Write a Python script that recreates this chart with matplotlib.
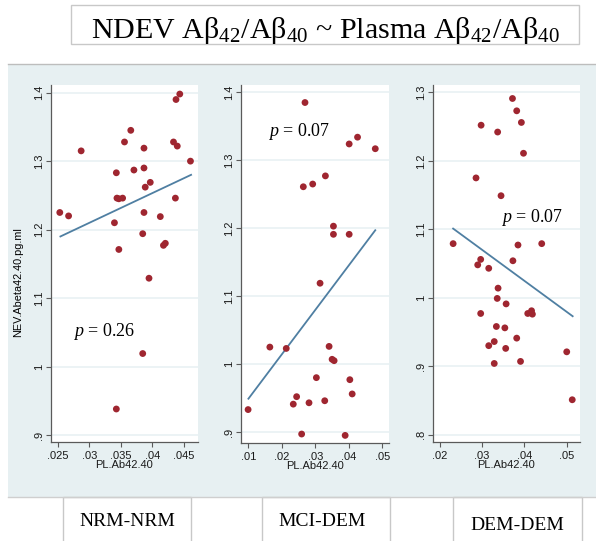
import matplotlib.pyplot as plt
from matplotlib.patches import Rectangle
from matplotlib.lines import Line2D

W, H = 596, 541

# ---- data ----
nrm_x = [0.0253, 0.0267, 0.0287, 0.0340, 0.0343, 0.0344, 0.0347, 0.0353, 0.0347, 0.0356,
         0.0366, 0.0371, 0.0385, 0.0387, 0.0387, 0.0387, 0.0389, 0.0397, 0.0395, 0.0413,
         0.0418, 0.0421, 0.0434, 0.0440, 0.0437, 0.0438, 0.0444, 0.0461, 0.0385, 0.0343]
nrm_y = [1.225, 1.220, 1.315, 1.210, 1.283, 1.246, 1.245, 1.246, 1.171, 1.328,
         1.345, 1.287, 1.194, 1.319, 1.290, 1.225, 1.262, 1.269, 1.129, 1.219,
         1.177, 1.180, 1.328, 1.322, 1.246, 1.390, 1.398, 1.300, 1.019, 0.938]
nrm_fit_x = [0.0254, 0.0462]
nrm_fit_y = [1.190, 1.280]

mci_x = [0.0269, 0.0401, 0.0426, 0.0479, 0.0264, 0.0292, 0.0330, 0.0354, 0.0354, 0.0401,
         0.0314, 0.0164, 0.0213, 0.0341, 0.0350, 0.0356, 0.0303, 0.0403, 0.0410, 0.0244,
         0.0234, 0.0281, 0.0328, 0.0099, 0.0259, 0.0389]
mci_y = [1.385, 1.324, 1.334, 1.317, 1.261, 1.265, 1.277, 1.203, 1.191, 1.191,
         1.119, 1.025, 1.023, 1.026, 1.007, 1.005, 0.980, 0.977, 0.956, 0.952,
         0.941, 0.943, 0.946, 0.933, 0.897, 0.895]
mci_fit_x = [0.0100, 0.0479]
mci_fit_y = [0.949, 1.197]

dem_x = [0.0372, 0.0382, 0.0393, 0.0298, 0.0337, 0.0398, 0.0286, 0.0345, 0.0232, 0.0385,
         0.0441, 0.0297, 0.0290, 0.0316, 0.0373, 0.0338, 0.0336, 0.0357, 0.0297, 0.0408,
         0.0417, 0.0419, 0.0334, 0.0354, 0.0382, 0.0329, 0.0316, 0.0356, 0.0500, 0.0329,
         0.0391, 0.0513]
dem_y = [1.291, 1.273, 1.256, 1.252, 1.242, 1.211, 1.175, 1.149, 1.079, 1.077,
         1.079, 1.056, 1.048, 1.043, 1.054, 1.014, 0.999, 0.991, 0.977, 0.977,
         0.981, 0.976, 0.958, 0.956, 0.941, 0.936, 0.930, 0.926, 0.921, 0.904,
         0.907, 0.851]
dem_fit_x = [0.0232, 0.0514]
dem_fit_y = [1.101, 0.973]

p_labels = ["0.26", "0.07", "0.07"]
groups = ["NRM-NRM", "MCI-DEM", "DEM-DEM"]

x_ticks = [[0.025, 0.03, 0.035, 0.04, 0.045], [0.01, 0.02, 0.03, 0.04, 0.05], [0.02, 0.03, 0.04, 0.05]]
x_ticklabels = [[".025", ".03", ".035", ".04", ".045"], [".01", ".02", ".03", ".04", ".05"],
                [".02", ".03", ".04", ".05"]]
y_ticks = [[0.9, 1.0, 1.1, 1.2, 1.3, 1.4], [0.9, 1.0, 1.1, 1.2, 1.3, 1.4], [0.8, 0.9, 1.0, 1.1, 1.2, 1.3]]
y_ticklabels = [[".9", "1", "1.1", "1.2", "1.3", "1.4"], [".9", "1", "1.1", "1.2", "1.3", "1.4"],
                [".8", ".9", "1", "1.1", "1.2", "1.3"]]

plt.rcParams['mathtext.fontset'] = 'custom'
plt.rcParams['mathtext.rm'] = 'Liberation Serif'
plt.rcParams['mathtext.it'] = 'Liberation Serif:italic'

fig = plt.figure(figsize=(W / 100, H / 100), dpi=100)
fig.patch.set_facecolor('white')


def fx(px):
    return px / W


def fy(py):
    return 1 - py / H


def rect(x0, y0, x1, y1, fc, ec):
    fig.patches.append(Rectangle((fx(x0), fy(y1)), fx(x1) - fx(x0), fy(y0) - fy(y1),
                                 transform=fig.transFigure, facecolor=fc, edgecolor=ec,
                                 linewidth=1, zorder=-10))


def hline(x0, x1, y, c):
    fig.lines.append(Line2D([fx(x0), fx(x1)], [fy(y), fy(y)], transform=fig.transFigure,
                            color=c, linewidth=1, zorder=-9))


# backgrounds and boxes
rect(71, 5, 579, 44, 'white', '#c8c8c8')
rect(8, 64, 600, 496.5, '#e7f0f2', 'none')
hline(8, 596, 64, '#bdbdbd')
for x0, x1 in [(63, 191), (262, 390), (453, 582)]:
    rect(x0, 497, x1, 545, 'white', '#c8c8c8')
hline(8, 596, 496.5, '#cfcfcf')

serif = 'Liberation Serif'
sans = 'Liberation Sans'

fig.text(fx(91), fy(38.5), "NDEV A\u03b2$_{42}$/A\u03b2$_{40}$ ~ Plasma A\u03b2$_{42}$/A\u03b2$_{40}$",
         family=serif, fontsize=21.6, ha='left', va='baseline')

label_pos = [(127, 522), (322, 522), (517, 525)]
for g, (lx, ly) in zip(groups, label_pos):
    fig.text(fx(lx), fy(ly), g, family=serif, fontsize=14, ha='center', va='center')

fig.text(fx(18), fy(282), "NEV.Abeta42.40.pg.ml", family=sans, fontsize=7.8,
         rotation=90, ha='center', va='center')

# panel geometry in pixels: left, top, right, bottom
boxes = [(51, 85, 198, 442), (241, 85, 389, 443), (433, 85, 580, 442)]
xlims = [(0.0239, 0.0473), (0.00778, 0.0520), (0.01845, 0.05313)]
ylims = [(0.8898, 1.4112), (0.8838, 1.4108), (0.7893, 1.3107)]
p_pos = [(0.02744, 1.0443), (0.01588, 1.3356), (0.03453, 1.1103)]

xs = [nrm_x, mci_x, dem_x]
ys = [nrm_y, mci_y, dem_y]
fits = [(nrm_fit_x, nrm_fit_y), (mci_fit_x, mci_fit_y), (dem_fit_x, dem_fit_y)]

for i in range(3):
    l, t, r, b = boxes[i]
    ax = fig.add_axes([fx(l), fy(b), fx(r) - fx(l), fy(t) - fy(b)])
    ax.set_facecolor('white')
    ax.set_xlim(*xlims[i])
    ax.set_ylim(*ylims[i])
    ax.set_yticks(y_ticks[i])
    ax.set_yticklabels(y_ticklabels[i], rotation=90, va='center', family=sans, fontsize=8)
    ax.set_xticks(x_ticks[i])
    ax.set_xticklabels(x_ticklabels[i], family=sans, fontsize=8)
    ax.grid(axis='y', color='#eaf2f4', linewidth=1.3)
    ax.set_axisbelow(True)
    for s in ['top', 'right']:
        ax.spines[s].set_visible(False)
    for s in ['left', 'bottom']:
        ax.spines[s].set_color('#5a5a5a')
        ax.spines[s].set_linewidth(0.9)
    ax.tick_params(axis='both', length=3.3, width=0.8, color='#5a5a5a', labelcolor='#1a1a1a')
    ax.tick_params(axis='x', pad=3)
    ax.tick_params(axis='y', pad=2)

    ax.plot(fits[i][0], fits[i][1], color='#4f7fa2', linewidth=1.3, zorder=2)
    ax.scatter(xs[i], ys[i], s=24, color='#9f2630', edgecolors='none', zorder=3)

    ax.set_xlabel("PL.Ab42.40", family=sans, fontsize=8, labelpad=-0.5, color='#1a1a1a')
    ax.text(p_pos[i][0], p_pos[i][1], "$p$ = " + p_labels[i], family=serif, fontsize=13,
            ha='left', va='baseline')

fig.savefig('out.png', dpi=100)
